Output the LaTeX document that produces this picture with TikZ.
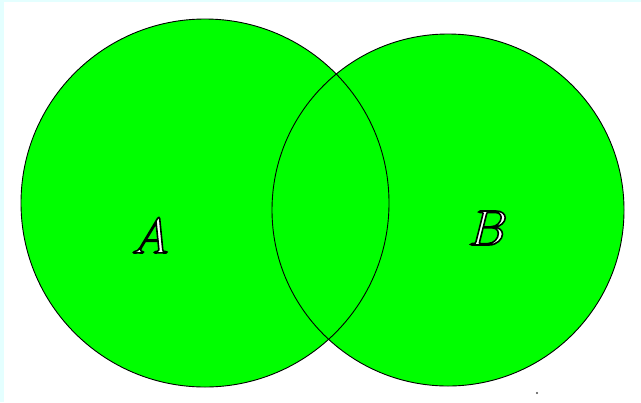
\documentclass[tikz,border=0pt]{standalone}
\usepackage{amsmath,amssymb}
\usepackage{tikz}
\usetikzlibrary{positioning,calc}
\definecolor{setgreen}{HTML}{00FF00}
\definecolor{edgecyan}{HTML}{E4FFFF}
\tikzset{
  % mängder
  setc/.style={circle,draw=black,line width=0.45pt,inner sep=0pt},
  setlbl/.style={inner sep=0pt,font=\fontsize{31}{32}\selectfont},
}
\newcommand{\hollow}[1]{\color{white}\special{pdf:literal 0 G 2 Tr 0.8 w}#1\special{pdf:literal 0 Tr}}

\begin{document}
\begin{tikzpicture}[x=0.5pt,y=-0.5pt]
\useasboundingbox (0,0) rectangle (641,402);
  \fill[edgecyan] (0,0) rectangle (641,402);
  \fill[white] (4,1.5) rectangle (641,402);
  \fill[setgreen] (205,203) circle (184);
  \fill[setgreen] (448,210) circle (176);
  \node[setc,minimum size=184pt] (A) at (205,203) {};
  \node[setc,minimum size=176pt] (B) at (448,210) {};
  \node[setlbl] (la) at (150,236) {\hollow{$A$}};
  \node[setlbl] (lb) at (488,228) {\hollow{$B$}};
  \fill[black!70] (537,393) circle (1.2);
\end{tikzpicture}
\end{document}
